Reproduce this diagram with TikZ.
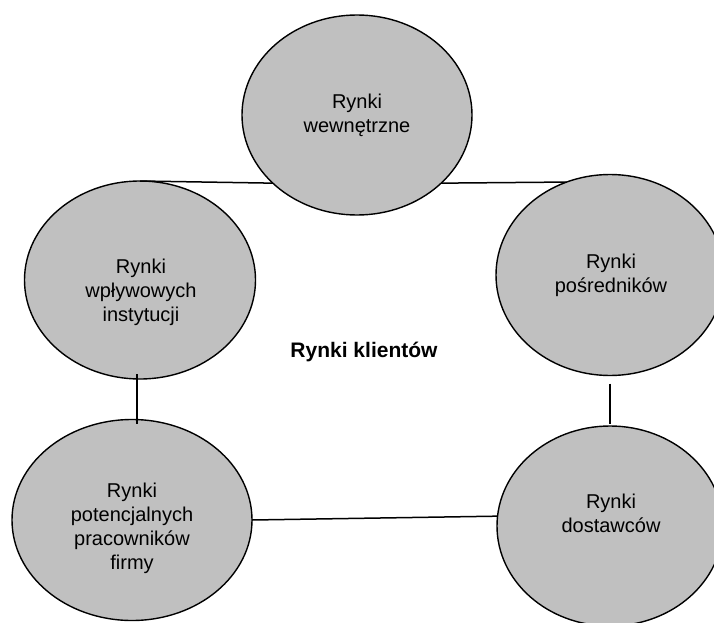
\documentclass[tikz,border=0pt]{standalone}
\usepackage{fontspec}
\setmainfont{Liberation Sans}
\usetikzlibrary{shapes.geometric}
\definecolor{silver}{HTML}{C0C0C0}
\begin{document}
\begin{tikzpicture}[x=1pt,y=-1pt,
  ell/.style={ellipse, draw=black, line width=1.4pt, fill=silver, inner sep=0pt, outer sep=0pt},
  lbl/.style={align=center, font=\fontsize{20}{24}\selectfont, inner sep=0pt},
  conn/.style={draw=black, line width=1.5pt}]
\clip (0,0) rectangle (714,623);
% ellipses
\node[ell, minimum width=230pt, minimum height=200pt] (T)  at (357,115) {};
\node[ell, minimum width=231pt, minimum height=198pt] (L)  at (140,280) {};
\node[ell, minimum width=228pt, minimum height=201pt] (R)  at (610,275) {};
\node[ell, minimum width=240pt, minimum height=201pt] (BL) at (132,520) {};
\node[ell, minimum width=226pt, minimum height=200pt] (BR) at (610,526) {};
% labels
\node[lbl] (tT)  at (357,115.5) {Rynki\\wewnętrzne};
\node[lbl] (tL)  at (141,292)   {Rynki\\wpływowych\\instytucji};
\node[lbl] (tR)  at (611,275.5) {Rynki\\pośredników};
\node[lbl] (tBL) at (132,528.5) {Rynki\\potencjalnych\\pracowników\\firmy};
\node[lbl] (tBR) at (611,513.5) {Rynki\\dostawców};
\node[inner sep=0pt, font=\fontsize{21}{25}\selectfont\bfseries] (C) at (364,352) {Rynki klientów};
% connectors
\draw[conn] (L.north) -- (T.219.7);
\draw[conn] (T.321.8) -- (R.115);
\draw[conn] ([shift={(-3pt,5pt)}]L.south) -- ([shift={(5pt,-4pt)}]BL.north);
\draw[conn] ([yshift=-8pt]R.south) -- ([yshift=2pt]BR.north);
\draw[conn] (BL.east) -- (BR.175);
\end{tikzpicture}
\end{document}
